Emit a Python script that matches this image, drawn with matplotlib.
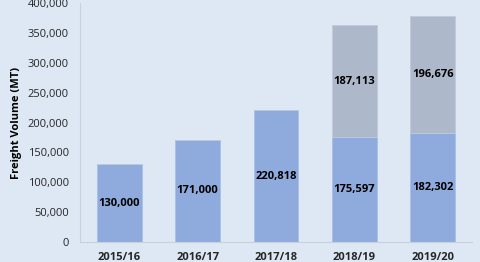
import matplotlib.pyplot as plt
import numpy as np
from matplotlib.ticker import FuncFormatter

years = ["2015/16", "2016/17", "2017/18", "2018/19", "2019/20"]
base_vals = [130000, 171000, 220818, 175597, 182302]
extra_vals = [0, 0, 0, 187113, 196676]

BLUE = "#8faadc"
GREY = "#adb9ca"
BG = "#dde8f4"

plt.rcParams['font.family'] = ['Open Sans', 'DejaVu Sans']

fig = plt.figure(figsize=(4.8, 2.62), dpi=100, facecolor=BG)
ax = fig.add_axes([80 / 480, 20 / 262, 392 / 480, 239 / 262])
ax.set_facecolor(BG)

x = np.arange(len(years))
w = 0.57
ax.bar(x, base_vals, w, color=BLUE, edgecolor="#a9c0e8", linewidth=0.6, zorder=2)
ax.bar(x, extra_vals, w, bottom=base_vals, color=GREY, edgecolor="#c0cad8",
       linewidth=0.6, zorder=2)

for i in range(len(years)):
    ax.text(x[i], base_vals[i] / 2, f"{base_vals[i]:,}", ha="center", va="center",
            fontsize=8, fontweight="bold", color="black", zorder=3)
    if extra_vals[i] > 0:
        ax.text(x[i], base_vals[i] + extra_vals[i] / 2, f"{extra_vals[i]:,}",
                ha="center", va="center", fontsize=8, fontweight="bold",
                color="black", zorder=3)

ax.set_xlim(-0.5, len(years) - 0.5)
ax.set_ylim(0, 400000)
ax.set_yticks(np.arange(0, 400001, 50000))
ax.yaxis.set_major_formatter(FuncFormatter(lambda v, p: f"{int(v):,}"))
ax.set_xticks(x)
ax.set_xticklabels(years, fontweight="bold")
ax.tick_params(axis="both", length=0, labelsize=8, colors="#262626")
ax.tick_params(axis="y", pad=8)
ax.tick_params(axis="x", pad=7.5)

for s in ["top", "right"]:
    ax.spines[s].set_visible(False)
ax.spines["left"].set_color("#c8d0da")
ax.spines["bottom"].set_color("#c8d0da")

ax.set_ylabel("Freight Volume (MT)", fontsize=8, fontweight="bold", labelpad=4)

fig.savefig("out.png", dpi=100, facecolor=BG)
